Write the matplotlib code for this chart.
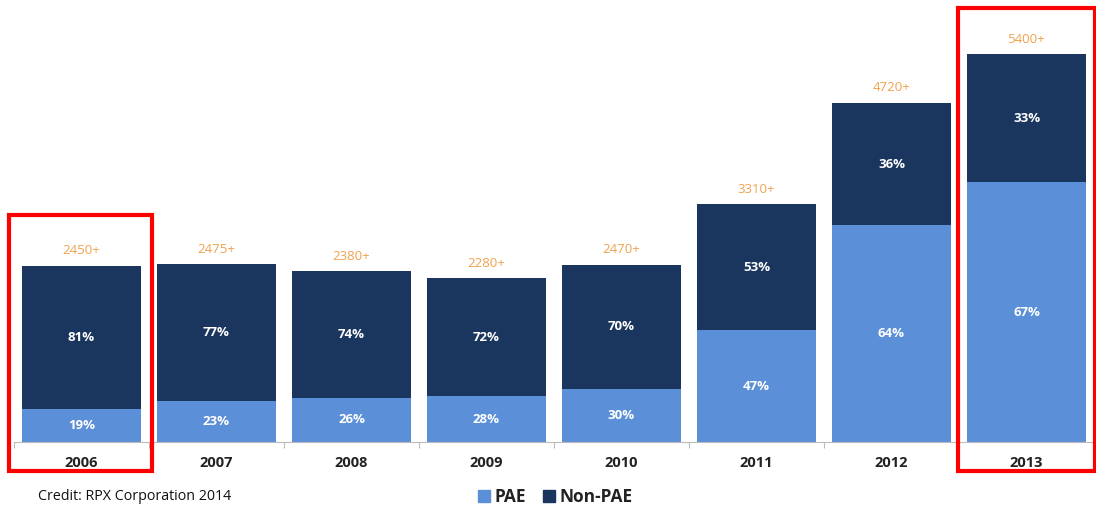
import numpy as np
import matplotlib.pyplot as plt
from matplotlib.patches import Rectangle, Patch

plt.rcParams['font.family'] = ['Open Sans', 'DejaVu Sans']

years = ['2006', '2007', '2008', '2009', '2010', '2011', '2012', '2013']
totals = [2450, 2475, 2380, 2280, 2470, 3310, 4720, 5400]
pae_pct = [19, 23, 26, 28, 30, 47, 64, 67]
nonpae_pct = [81, 77, 74, 72, 70, 53, 36, 33]
total_labels = ['2450+', '2475+', '2380+', '2280+', '2470+', '3310+', '4720+', '5400+']

pae_col = '#5b8fd8'
non_col = '#1b365e'

W, H = 1096, 509
fig = plt.figure(figsize=(W / 100, H / 100), dpi=100)
ax = fig.add_axes([14 / W, (H - 442) / H, 1080 / W, 442 / H])

x = np.arange(len(years))
tot = np.array(totals, dtype=float)
pae = tot * np.array(pae_pct) / 100
non = tot - pae

ax.bar(x, pae, width=0.88, color=pae_col)
ax.bar(x, non, width=0.88, bottom=pae, color=non_col)

for i in range(len(years)):
    ax.text(x[i], pae[i] / 2, f'{pae_pct[i]}%', ha='center', va='center',
            color='white', fontsize=9.5, fontweight='bold')
    ax.text(x[i], pae[i] + non[i] / 2, f'{nonpae_pct[i]}%', ha='center', va='center',
            color='white', fontsize=9.5, fontweight='bold')
    ax.text(x[i], tot[i] + 120, total_labels[i], ha='center', va='bottom',
            color='#f0a24e', fontsize=9.5)

ax.set_xlim(-0.5, 7.5)
ax.set_ylim(0, 442 / 0.0718)
for s in ['top', 'right', 'left']:
    ax.spines[s].set_visible(False)
ax.spines['bottom'].set_color('#bbbbbb')
ax.set_yticks([])
ax.set_xticks(np.arange(-0.5, 8, 1))
ax.set_xticklabels([])
ax.tick_params(axis='x', length=4, color='#bbbbbb')
for i, y in enumerate(years):
    ax.text(x[i], -290, y, ha='center', va='center', fontsize=10.5,
            fontweight='bold', color='#222222')

# red highlight boxes
for (x0, y0, x1, y1) in [(9, 215, 152, 471), (958, 8, 1095, 471)]:
    fig.patches.append(Rectangle((x0 / W, 1 - y1 / H), (x1 - x0) / W, (y1 - y0) / H,
                                 transform=fig.transFigure, fill=False,
                                 edgecolor='#ff0000', linewidth=3))

fig.text(38 / W, 1 - 497 / H, 'Credit: RPX Corporation 2014', ha='left', va='center',
         fontsize=10.3, color='#111111')
handles = [Patch(color=pae_col, label='PAE'), Patch(color=non_col, label='Non-PAE')]
leg = fig.legend(handles=handles, loc='center', bbox_to_anchor=(555 / W, 1 - 497 / H),
                 ncol=2, frameon=False, handlelength=0.7, handleheight=0.7,
                 handletextpad=0.25, columnspacing=1.0,
                 prop={'weight': 'bold', 'size': 12.5})
for t in leg.get_texts():
    t.set_color('#222222')

fig.savefig('out.png', dpi=100)
